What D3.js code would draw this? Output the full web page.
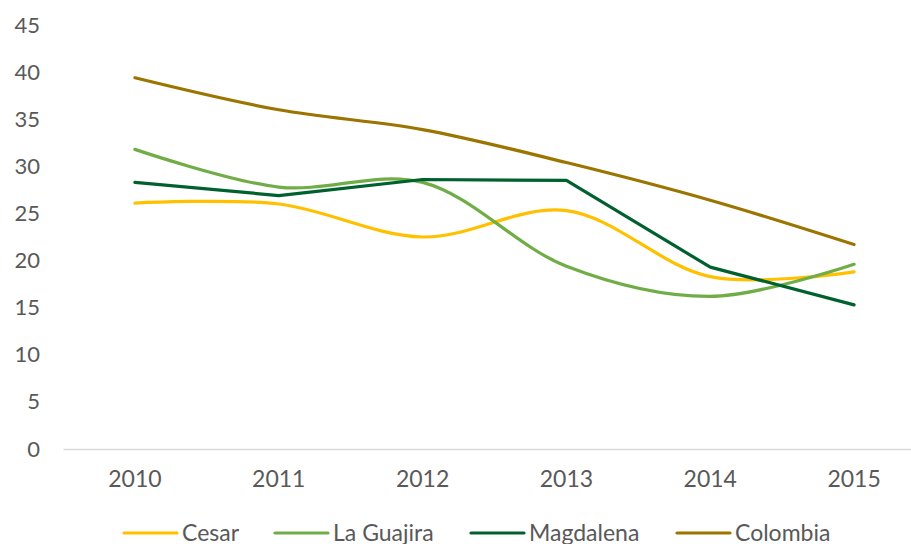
<!DOCTYPE html>
<html>
<head>
<meta charset="utf-8">
<script src="https://cdn.jsdelivr.net/npm/d3@7"></script>
<style>
  body { margin: 0; background: #fff; }
  svg { font-family: Lato, "Open Sans", sans-serif; }
</style>
</head>
<body>
<div id="chart"></div>
<script>
const years = ['2010', '2011', '2012', '2013', '2014', '2015']
const yTicks = [0, 5, 10, 15, 20, 25, 30, 35, 40, 45]

const cesar = [26.1, 26.0, 22.5, 25.3, 18.3, 18.8]
const laGuajira = [31.8, 27.8, 28.3, 19.4, 16.2, 19.6]
const magdalena = [28.3, 26.9, 28.6, 28.5, 19.3, 15.3]
const colombia = [39.4, 36.0, 33.9, 30.4, 26.4, 21.7]

const seriesNames = ['Cesar', 'La Guajira', 'Magdalena', 'Colombia']
const seriesColors = ['#FFC000', '#70AD47', '#00612E', '#9C7400']
const seriesSmooth = [true, true, false, true]
const seriesValues = [cesar, laGuajira, magdalena, colombia]

const width = 911
const height = 544

const svg = d3.select('#chart')
  .append('svg')
    .attr('width', width)
    .attr('height', height)

const x = d3.scaleBand()
  .domain(years)
  .range([63, 926])

const y = d3.scaleLinear()
  .domain([0, 45])
  .range([449, 25])

// y tick labels, no axis line or gridlines
const yAxis = svg.append('g')
  .attr('transform', 'translate(40,0)')
  .call(d3.axisLeft(y).tickValues(yTicks).tickSize(0).tickPadding(0))
yAxis.select('.domain').remove()
yAxis.selectAll('text')
  .style('font-size', '22px')
  .style('fill', '#595959')
  .style('font-family', 'Lato, sans-serif')

// category axis along zero
const xAxis = svg.append('g')
  .attr('transform', `translate(0,${y(0)})`)
  .call(d3.axisBottom(x).tickSize(0).tickPadding(22))
xAxis.select('.domain')
  .attr('stroke', '#D9D9D9')
  .attr('stroke-width', 1.3)
xAxis.selectAll('text')
  .style('font-size', '23px')
  .style('fill', '#595959')
  .style('font-family', 'Lato, sans-serif')

seriesValues.forEach((vals, i) => {
  const line = d3.line()
    .x((d, j) => x(years[j]) + x.bandwidth() / 2)
    .y(d => y(d))
    .curve(seriesSmooth[i] ? d3.curveCatmullRom.alpha(0.5) : d3.curveLinear)

  svg.append('path')
    .datum(vals)
    .attr('d', line)
    .attr('fill', 'none')
    .attr('stroke', seriesColors[i])
    .attr('stroke-width', 3.2)
    .attr('stroke-linecap', 'round')
    .attr('stroke-linejoin', 'round')
})

// legend
const legendX = [124, 275, 471, 677]
const legend = svg.append('g')
  .attr('transform', 'translate(0,533)')

seriesNames.forEach((name, i) => {
  legend.append('line')
    .attr('x1', legendX[i])
    .attr('x2', legendX[i] + 53)
    .attr('stroke', seriesColors[i])
    .attr('stroke-width', 3.2)
    .attr('stroke-linecap', 'round')

  legend.append('text')
    .attr('x', legendX[i] + 58)
    .attr('dy', '0.36em')
    .style('font-size', '23px')
    .style('fill', '#595959')
    .text(name)
})
</script>
</body>
</html>
